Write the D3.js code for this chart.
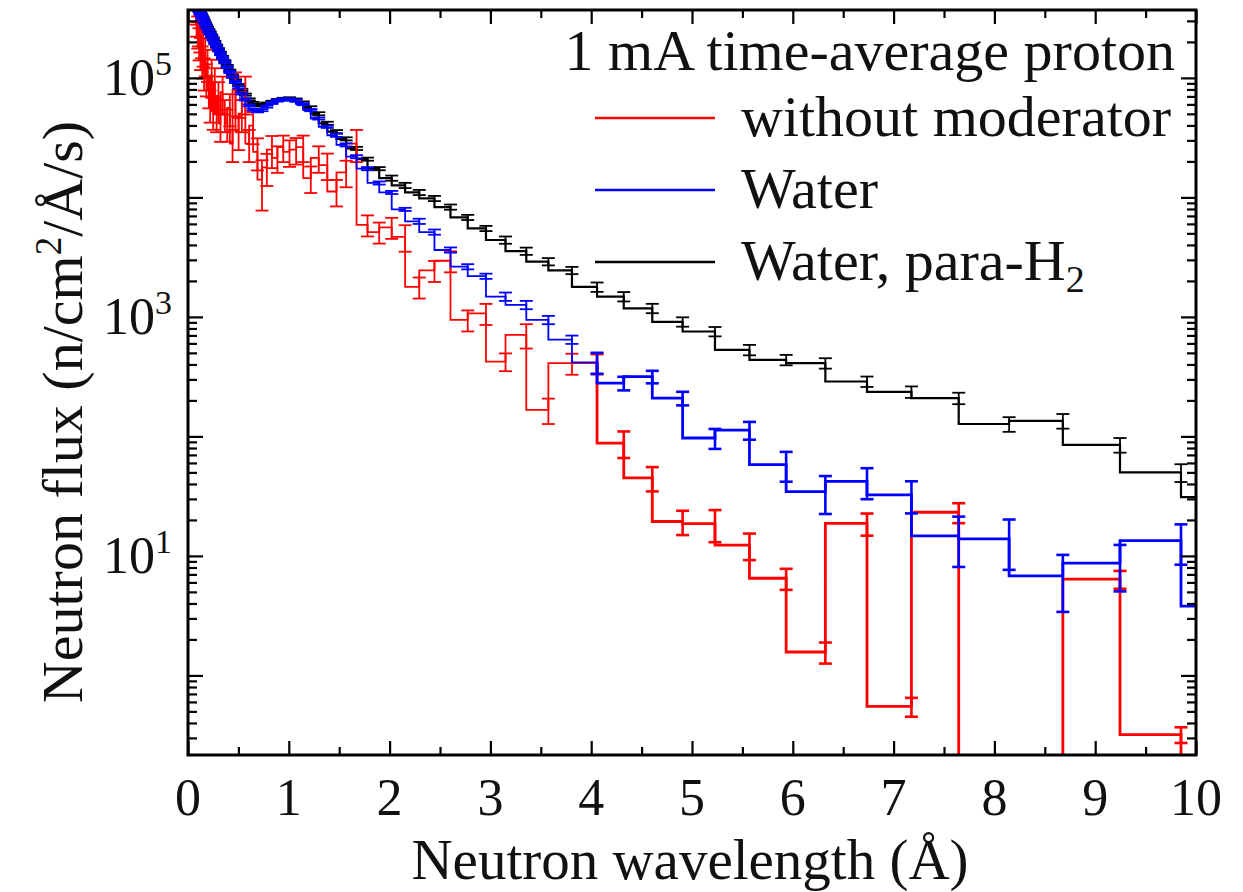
<!DOCTYPE html>
<html>
<head>
<meta charset="utf-8">
<script src="https://cdn.jsdelivr.net/npm/d3@7"></script>
<style>
  body { margin: 0; background: #fff; }
  text { font-family: "Liberation Serif", "Times New Roman", serif; fill: #111; }
</style>
</head>
<body>
<svg id="chart" width="1243" height="892"></svg>
<script>
// bin upper edges (Å), log-spaced histogram
var wavelength = [
  0.080, 0.085, 0.091, 0.097, 0.103, 0.110, 0.117, 0.124, 0.133, 0.141,
  0.150, 0.160, 0.171, 0.182, 0.194, 0.207, 0.220, 0.235, 0.250, 0.266,
  0.284, 0.302, 0.322, 0.343, 0.365, 0.389, 0.415, 0.442, 0.471, 0.502,
  0.534, 0.569, 0.607, 0.646, 0.689, 0.734, 0.782, 0.833, 0.887, 0.945,
  1.007, 1.073, 1.143, 1.218, 1.297, 1.382, 1.473, 1.569, 1.672, 1.781,
  1.897, 2.021, 2.154, 2.294, 2.445, 2.604, 2.775, 2.956, 3.150, 3.356,
  3.575, 3.809, 4.058, 4.323, 4.606, 4.907, 5.228, 5.570, 5.934, 6.323,
  6.736, 7.177, 7.646, 8.146, 8.679, 9.246, 9.851, 10.495
];

// without moderator (red)
var noModFlux = [
  398000, 316000, 417000, 251000, 282000, 200000, 251000, 166000, 224000, 141000,
  191000, 112000, 158000, 100000, 132000, 79400, 60300, 105000, 52500, 89100,
  50100, 70800, 41700, 75900, 50100, 41700, 56200, 28200, 79400, 35500,
  50100, 75900, 28200, 39800, 24000, 14100, 17800, 25100, 21400, 26300,
  24000, 25100, 26300, 14500, 21400, 18600, 11200, 16200, 28200, 5890,
  5130, 5620, 4680, 1780, 2450, 2950, 944, 1070, 423, 706,
  167, 410, 410, 88, 45, 19.4, 18.6, 12.3, 6.5, 1.57,
  18.7, 0.55, 23.2, 0, 0, 6.4, 0.32, 0
];
var noModErr = [
  0.3, 0.3, 0.3, 0.3, 0.35, 0.3, 0.35, 0.3, 0.35, 0.3,
  0.35, 0.3, 0.35, 0.3, 0.3, 0.3, 0.3, 0.35, 0.3, 0.35,
  0.3, 0.3, 0.3, 0.35, 0.3, 0.3, 0.3, 0.3, 0.4, 0.3,
  0.3, 0.35, 0.3, 0.3, 0.3, 0.45, 0.3, 0.3, 0.25, 0.25,
  0.25, 0.25, 0.25, 0.25, 0.25, 0.25, 0.25, 0.25, 0.3, 0.2,
  0.2, 0.2, 0.25, 0.2, 0.2, 0.2, 0.2, 0.2, 0.17, 0.23,
  0.24, 0.2, 0.19, 0.25, 0.23, 0.23, 0.3, 0.25, 0.2, 0.2,
  0.21, 0.18, 0.19, 0, 0, 0.17, 0.15, 0
];

// water (blue)
var waterFlux = [
  500000, 480000, 447000, 417000, 372000, 363000, 355000, 343000, 331000, 320000,
  309000, 295000, 282000, 269000, 257000, 245000, 234000, 221000, 209000, 195000,
  182000, 170000, 158000, 146000, 135000, 123000, 112000, 102000, 92300, 83200,
  74100, 66100, 58900, 54300, 52500, 53700, 57500, 61700, 64600, 66100,
  66100, 64600, 60300, 53700, 45700, 38900, 33100, 27500, 21900, 17400,
  13200, 11000, 7940, 6310, 5130, 3630, 2630, 2190, 1480, 1260,
  944, 646, 417, 279, 316, 209, 97, 113, 58, 34.5,
  42, 32.4, 14.7, 13.9, 6.8, 8.7, 13.4, 3.8
];
var waterErr = [
  0.02, 0.02, 0.02, 0.02, 0.02, 0.02, 0.02, 0.02, 0.02, 0.02,
  0.02, 0.02, 0.02, 0.02, 0.02, 0.02, 0.02, 0.02, 0.02, 0.02,
  0.02, 0.02, 0.02, 0.02, 0.02, 0.02, 0.02, 0.02, 0.02, 0.02,
  0.02, 0.02, 0.02, 0.02, 0.02, 0.02, 0.02, 0.02, 0.02, 0.02,
  0.02, 0.02, 0.02, 0.02, 0.02, 0.02, 0.03, 0.03, 0.03, 0.03,
  0.03, 0.03, 0.03, 0.05, 0.05, 0.05, 0.05, 0.05, 0.08, 0.08,
  0.08, 0.08, 0.2, 0.13, 0.12, 0.13, 0.19, 0.17, 0.28, 0.35,
  0.29, 0.30, 0.45, 0.45, 0.50, 0.42, 0.37, 0.5
];

// water + para-H2 (black)
var paraFlux = [
  500000, 480000, 460000, 430000, 380000, 372000, 363000, 351000, 339000, 327000,
  316000, 302000, 288000, 275000, 263000, 251000, 240000, 226000, 214000, 200000,
  186000, 174000, 162000, 150000, 138000, 126000, 115000, 105000, 95500, 87100,
  79400, 72400, 66100, 61700, 59600, 58900, 61000, 63100, 65300, 66800,
  66800, 65300, 61700, 56200, 50100, 41700, 35500, 30900, 25700, 20900,
  17400, 14500, 12600, 11000, 9800, 8300, 6800, 5500, 4400, 3550,
  2900, 2450, 1780, 1480, 1180, 910, 755, 530, 437, 410,
  288, 236, 209, 127, 135, 85, 50, 31
];
var paraErr = [
  0.02, 0.02, 0.02, 0.02, 0.02, 0.02, 0.02, 0.02, 0.02, 0.02,
  0.02, 0.02, 0.02, 0.02, 0.02, 0.02, 0.02, 0.02, 0.02, 0.02,
  0.02, 0.02, 0.02, 0.02, 0.02, 0.02, 0.02, 0.02, 0.02, 0.02,
  0.02, 0.02, 0.02, 0.02, 0.02, 0.02, 0.02, 0.02, 0.02, 0.02,
  0.03, 0.03, 0.03, 0.03, 0.03, 0.03, 0.03, 0.03, 0.03, 0.03,
  0.03, 0.05, 0.05, 0.05, 0.05, 0.05, 0.05, 0.05, 0.07, 0.07,
  0.07, 0.07, 0.09, 0.09, 0.09, 0.09, 0.09, 0.10, 0.10, 0.10,
  0.10, 0.11, 0.11, 0.14, 0.14, 0.14, 0.17, 0.17
];

var xTicks = [0, 1, 2, 3, 4, 5, 6, 7, 8, 9, 10];
var xMinor = [0.5, 1.5, 2.5, 3.5, 4.5, 5.5, 6.5, 7.5, 8.5, 9.5];
var yDecades = [1, 10, 100, 1000, 10000, 100000];
var yLabelled = [10, 1000, 100000];

var legendTitle = "1 mA time-average proton";
var series = [
  {name: "without moderator", color: "#ff0000", flux: noModFlux, err: noModErr},
  {name: "Water", color: "#0000ff", flux: waterFlux, err: waterErr},
  {name: "Water, para-H", sub: "2", color: "#000000", flux: paraFlux, err: paraErr}
];

var margin = {top: 10, right: 47, bottom: 137, left: 188};
var width = 1008,
    height = 745;

var x = d3.scaleLinear().domain([0, 10]).range([0, width]);
var y = d3.scaleLog().domain([0.2158, 369800]).range([height, 0]);
var yPos = v => v > 0 ? y(v) : height + 30;

var svg = d3.select("#chart");
var g = svg.append("g")
    .attr("transform", `translate(${margin.left}, ${margin.top})`);

g.append("clipPath").attr("id", "plotclip")
  .append("rect").attr("width", width).attr("height", height);

var plot = g.append("g").attr("clip-path", "url(#plotclip)");

var line = d3.line()
    .x(d => x(d.l))
    .y(d => yPos(d.v))
    .curve(d3.curveStepBefore);

var capW = 6.5;
var split = 62; // beyond 4 Å the red/blue traces are drawn heavier

// draw order: black under, then red, then blue
[series[2], series[0], series[1]].forEach(function(s) {
  var pts = wavelength.map((l, i) => ({l: l, v: s.flux[i], e: s.err[i]}));
  var heavy = s.color !== "#000000";
  var thin = heavy ? 1.8 : 2.2;
  var thick = heavy ? 2.8 : 2.2;

  plot.append("path")
      .attr("fill", "none")
      .attr("stroke", s.color)
      .attr("stroke-width", thin)
      .attr("d", line(pts.slice(0, split + 1)));
  plot.append("path")
      .attr("fill", "none")
      .attr("stroke", s.color)
      .attr("stroke-width", thick)
      .attr("d", line(pts.slice(split)));

  var bars = plot.append("g")
      .attr("stroke", s.color)
      .selectAll("g")
      .data(pts.filter(d => d.v > 0 && d.e > 0))
    .enter().append("g")
      .attr("stroke-width", d => heavy && d.l >= 4 ? 2.6 : 1.8);

  bars.append("line")
      .attr("x1", d => x(d.l)).attr("x2", d => x(d.l))
      .attr("y1", d => yPos(d.v * (1 - d.e)))
      .attr("y2", d => yPos(d.v * (1 + d.e)));
  bars.append("line")
      .attr("x1", d => x(d.l) - capW).attr("x2", d => x(d.l) + capW)
      .attr("y1", d => yPos(d.v * (1 + d.e)))
      .attr("y2", d => yPos(d.v * (1 + d.e)));
  bars.append("line")
      .attr("x1", d => x(d.l) - capW).attr("x2", d => x(d.l) + capW)
      .attr("y1", d => yPos(d.v * (1 - d.e)))
      .attr("y2", d => yPos(d.v * (1 - d.e)));
});

// minor y ticks 2..9 per decade
var yMinor = [];
yDecades.concat([0.1]).forEach(function(dec) {
  for (var k = 2; k <= 9; k++) yMinor.push(dec * k);
});
yMinor = yMinor.filter(v => v > 0.2158 && v < 369800);

function styleAxis(sel) {
  sel.select(".domain").remove();
  sel.selectAll("line").attr("stroke", "#000").attr("stroke-width", 2.2);
  sel.selectAll("text").remove();
}

// X axes (bottom and top), ticks inward
g.append("g").attr("transform", `translate(0, ${height})`)
  .call(d3.axisBottom(x).tickValues(xTicks).tickSize(-14)).call(styleAxis);
g.append("g").attr("transform", `translate(0, ${height})`)
  .call(d3.axisBottom(x).tickValues(xMinor).tickSize(-8)).call(styleAxis);
g.append("g")
  .call(d3.axisTop(x).tickValues(xTicks).tickSize(-14)).call(styleAxis);
g.append("g")
  .call(d3.axisTop(x).tickValues(xMinor).tickSize(-8)).call(styleAxis);

// Y axes (left and right), ticks inward
g.append("g")
  .call(d3.axisLeft(y).tickValues(yDecades).tickSize(-15)).call(styleAxis);
g.append("g")
  .call(d3.axisLeft(y).tickValues(yMinor).tickSize(-9)).call(styleAxis);
g.append("g").attr("transform", `translate(${width}, 0)`)
  .call(d3.axisRight(y).tickValues(yDecades).tickSize(-15)).call(styleAxis);
g.append("g").attr("transform", `translate(${width}, 0)`)
  .call(d3.axisRight(y).tickValues(yMinor).tickSize(-9)).call(styleAxis);

// frame
g.append("rect")
    .attr("width", width).attr("height", height)
    .attr("fill", "none").attr("stroke", "#000").attr("stroke-width", 3);

// X tick labels
g.selectAll(".xlab").data(xTicks)
  .enter().append("text")
    .attr("class", "xlab")
    .attr("x", d => x(d))
    .attr("y", height + 60)
    .attr("text-anchor", "middle")
    .attr("font-size", 52)
    .text(d => d);

// Y tick labels 10^n
var ylab = g.selectAll(".ylab").data(yLabelled)
  .enter().append("text")
    .attr("class", "ylab")
    .attr("x", -16)
    .attr("y", d => y(d) + 17)
    .attr("text-anchor", "end")
    .attr("font-size", 52);
ylab.append("tspan").text("10");
ylab.append("tspan")
    .attr("font-size", 34)
    .attr("dy", -20)
    .text(d => Math.round(Math.log10(d)));

// Axis titles
svg.append("text")
    .attr("x", 690).attr("y", 879)
    .attr("text-anchor", "middle")
    .attr("font-size", 57)
    .text("Neutron wavelength (Å)");

var yt = svg.append("text")
    .attr("transform", "translate(82, 412) rotate(-90)")
    .attr("text-anchor", "middle")
    .attr("font-size", 58);
yt.append("tspan").text("Neutron flux (n/cm");
yt.append("tspan").attr("font-size", 37).attr("dy", -21).text("2");
yt.append("tspan").attr("dy", 21).text("/Å/s)");

// Legend
svg.append("text")
    .attr("x", 1175).attr("y", 70)
    .attr("text-anchor", "end")
    .attr("font-size", 58)
    .text(legendTitle);

var leg = svg.selectAll(".leg").data(series)
  .enter().append("g")
    .attr("class", "leg")
    .attr("transform", (d, i) => `translate(0, ${118 + i * 72})`);
leg.append("line")
    .attr("x1", 595).attr("x2", 715)
    .attr("stroke", d => d.color).attr("stroke-width", 2.6);
var legText = leg.append("text")
    .attr("x", 741).attr("y", 18)
    .attr("font-size", 58);
legText.append("tspan").text(d => d.name);
legText.filter(d => d.sub).append("tspan")
    .attr("font-size", 38).attr("dy", 12)
    .text(d => d.sub);
</script>
</body>
</html>
